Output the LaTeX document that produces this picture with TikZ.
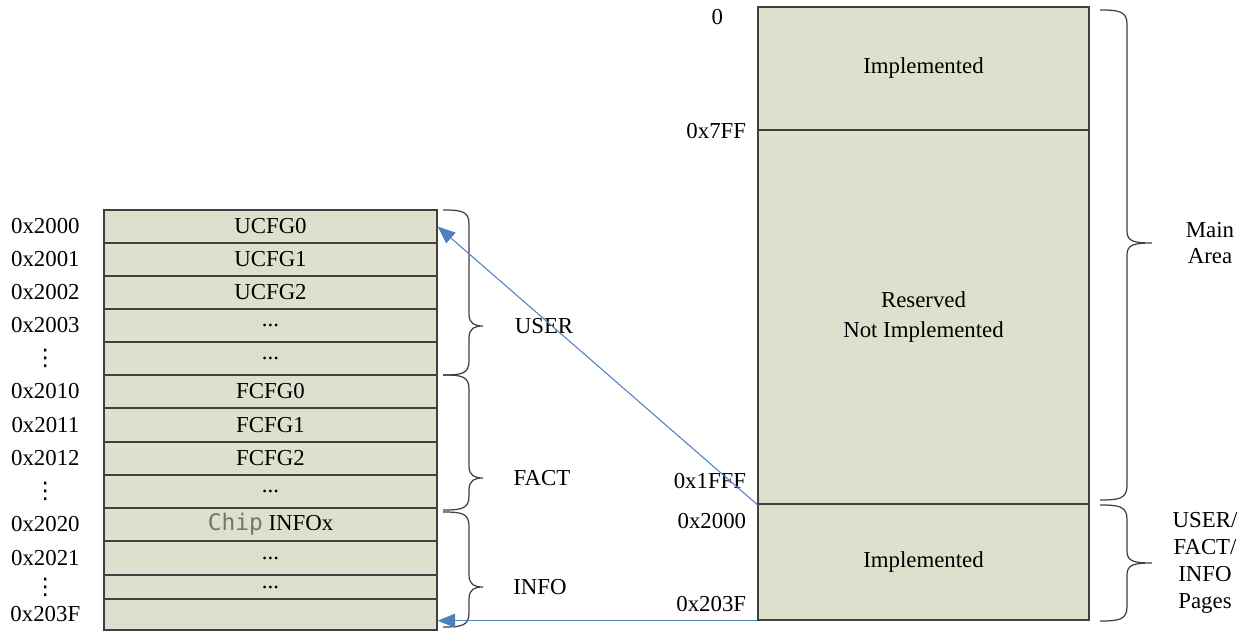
\documentclass[tikz,border=0pt]{standalone}
\usepackage{fontspec}
\setmainfont{Liberation Serif}
\newfontfamily\chipfont{DejaVu Sans Mono}
\newfontfamily\dotsfont{DejaVu Sans}
\usepackage{xcolor}
\usetikzlibrary{positioning,calc,arrows.meta}

\definecolor{memfill}{RGB}{220,224,204}
\definecolor{linkblue}{RGB}{79,129,189}
\newcommand{\celldots}{...}
\newcommand{\addrdots}{{\dotsfont ⋮}}
\newcommand{\chiptxt}{{\color{black!55}\chipfont Chip}}

\tikzset{
  cell/.style={draw=black!75, line width=0.8pt, fill=memfill, minimum width=6.66cm, inner sep=0pt},
  area/.style={draw=black!75, line width=0.8pt, fill=memfill, minimum width=6.62cm, inner sep=0pt, align=center},
  addr/.style={inner sep=0.5pt},
  link/.style={draw=linkblue, line width=0.6pt, -{Triangle[length=10pt,width=8pt]}},
  brace/.style={draw=black!75, line width=0.7pt},
}

% x0, xv, xt, ytop, ytip, ybot
\newcommand{\membrace}[6]{%
  \draw[brace] (#1,#4) .. controls (#1+18,#4) and (#2,#4+1) .. (#2,#4+14) -- (#2,#5-12)
    .. controls (#2,#5-2) and (#2+6,#5) .. (#3,#5)
    .. controls (#2+6,#5) and (#2,#5+2) .. (#2,#5+12) -- (#2,#6-14)
    .. controls (#2,#6-1) and (#1+18,#6) .. (#1,#6);
}

\begin{document}
\begin{tikzpicture}[x=0.02cm, y=-0.02cm, font=\fontsize{13}{15}\selectfont]
    \useasboundingbox (0,0) rectangle (1247,631);

    % Config page rows
    \foreach \n/\yt/\yb/\txt in {1/210/243/UCFG0, 2/243/276/UCFG1, 3/276/309/UCFG2,
        4/309/342/\celldots, 5/342/375/\celldots, 6/375/408/FCFG0, 7/408/442/FCFG1,
        8/442/475/FCFG2, 9/475/508/\celldots, 10/508/541/\chiptxt{} INFOx,
        11/541/575/\celldots, 12/575/599/\celldots, 13/599/630/{}}
        \node[cell, minimum height={(\yb-\yt)*0.02cm}] (r\n) at (270.5,{(\yt+\yb)/2}) {\txt};

    % Addresses
    \foreach \n/\lbl in {1/0x2000, 2/0x2001, 3/0x2002, 4/0x2003, 5/\addrdots, 6/0x2010,
        7/0x2011, 8/0x2012, 9/\addrdots, 10/0x2020, 11/0x2021, 12/\addrdots, 13/0x203F}
        \node[addr] (a\n) at ([xshift=-1.16cm]r\n.west) {\lbl};

    % Page braces
    \membrace{443}{469}{483}{210}{326}{375}
    \membrace{443}{469}{483}{375}{478}{510}
    \membrace{443}{469}{483}{512}{587}{627}
    \node (user) at (544,326) {USER};
    \node (fact) at (542,478) {FACT};
    \node (info) at (540,587) {INFO};

    % Flash map
    \node[area, minimum height=2.46cm] (impl) at (923.5,68.5) {Implemented};
    \node[area, minimum height=7.48cm, font=\fontsize{13}{17}\selectfont] (rsv) at (923.5,317) {Reserved\\Not Implemented};
    \node[area, minimum height=2.32cm] (ufi) at (923.5,562) {Implemented};

    \node (zero) at ([xshift=-0.8cm, yshift=-0.22cm]impl.north west) {0};
    \node[anchor=east] (l7ff) at ([xshift=-0.1cm]impl.south west) {0x7FF};
    \node[anchor=east] (l1fff) at ([xshift=-0.1cm, yshift=0.48cm]rsv.south west) {0x1FFF};
    \node[anchor=east] (l2000) at ([xshift=-0.1cm, yshift=-0.36cm]ufi.north west) {0x2000};
    \node[anchor=east] (l203f) at ([xshift=-0.1cm, yshift=0.34cm]ufi.south west) {0x203F};

    % Area braces
    \membrace{1100}{1127}{1152}{10}{243}{500}
    \membrace{1100}{1127}{1152}{505}{563}{621}
    \node[align=center, font=\fontsize{13}{15.3}\selectfont] (main) at (1210,243) {Main\\Area};
    \node[align=center, font=\fontsize{13}{15.3}\selectfont] (pages) at (1205,563) {USER/\\FACT/\\INFO\\Pages};

    % Links
    \draw[link] (rsv.south west) -- (r1.east);
    \draw[link] (ufi.south west) -- (ufi.south west -| r13.east);
\end{tikzpicture}
\end{document}
